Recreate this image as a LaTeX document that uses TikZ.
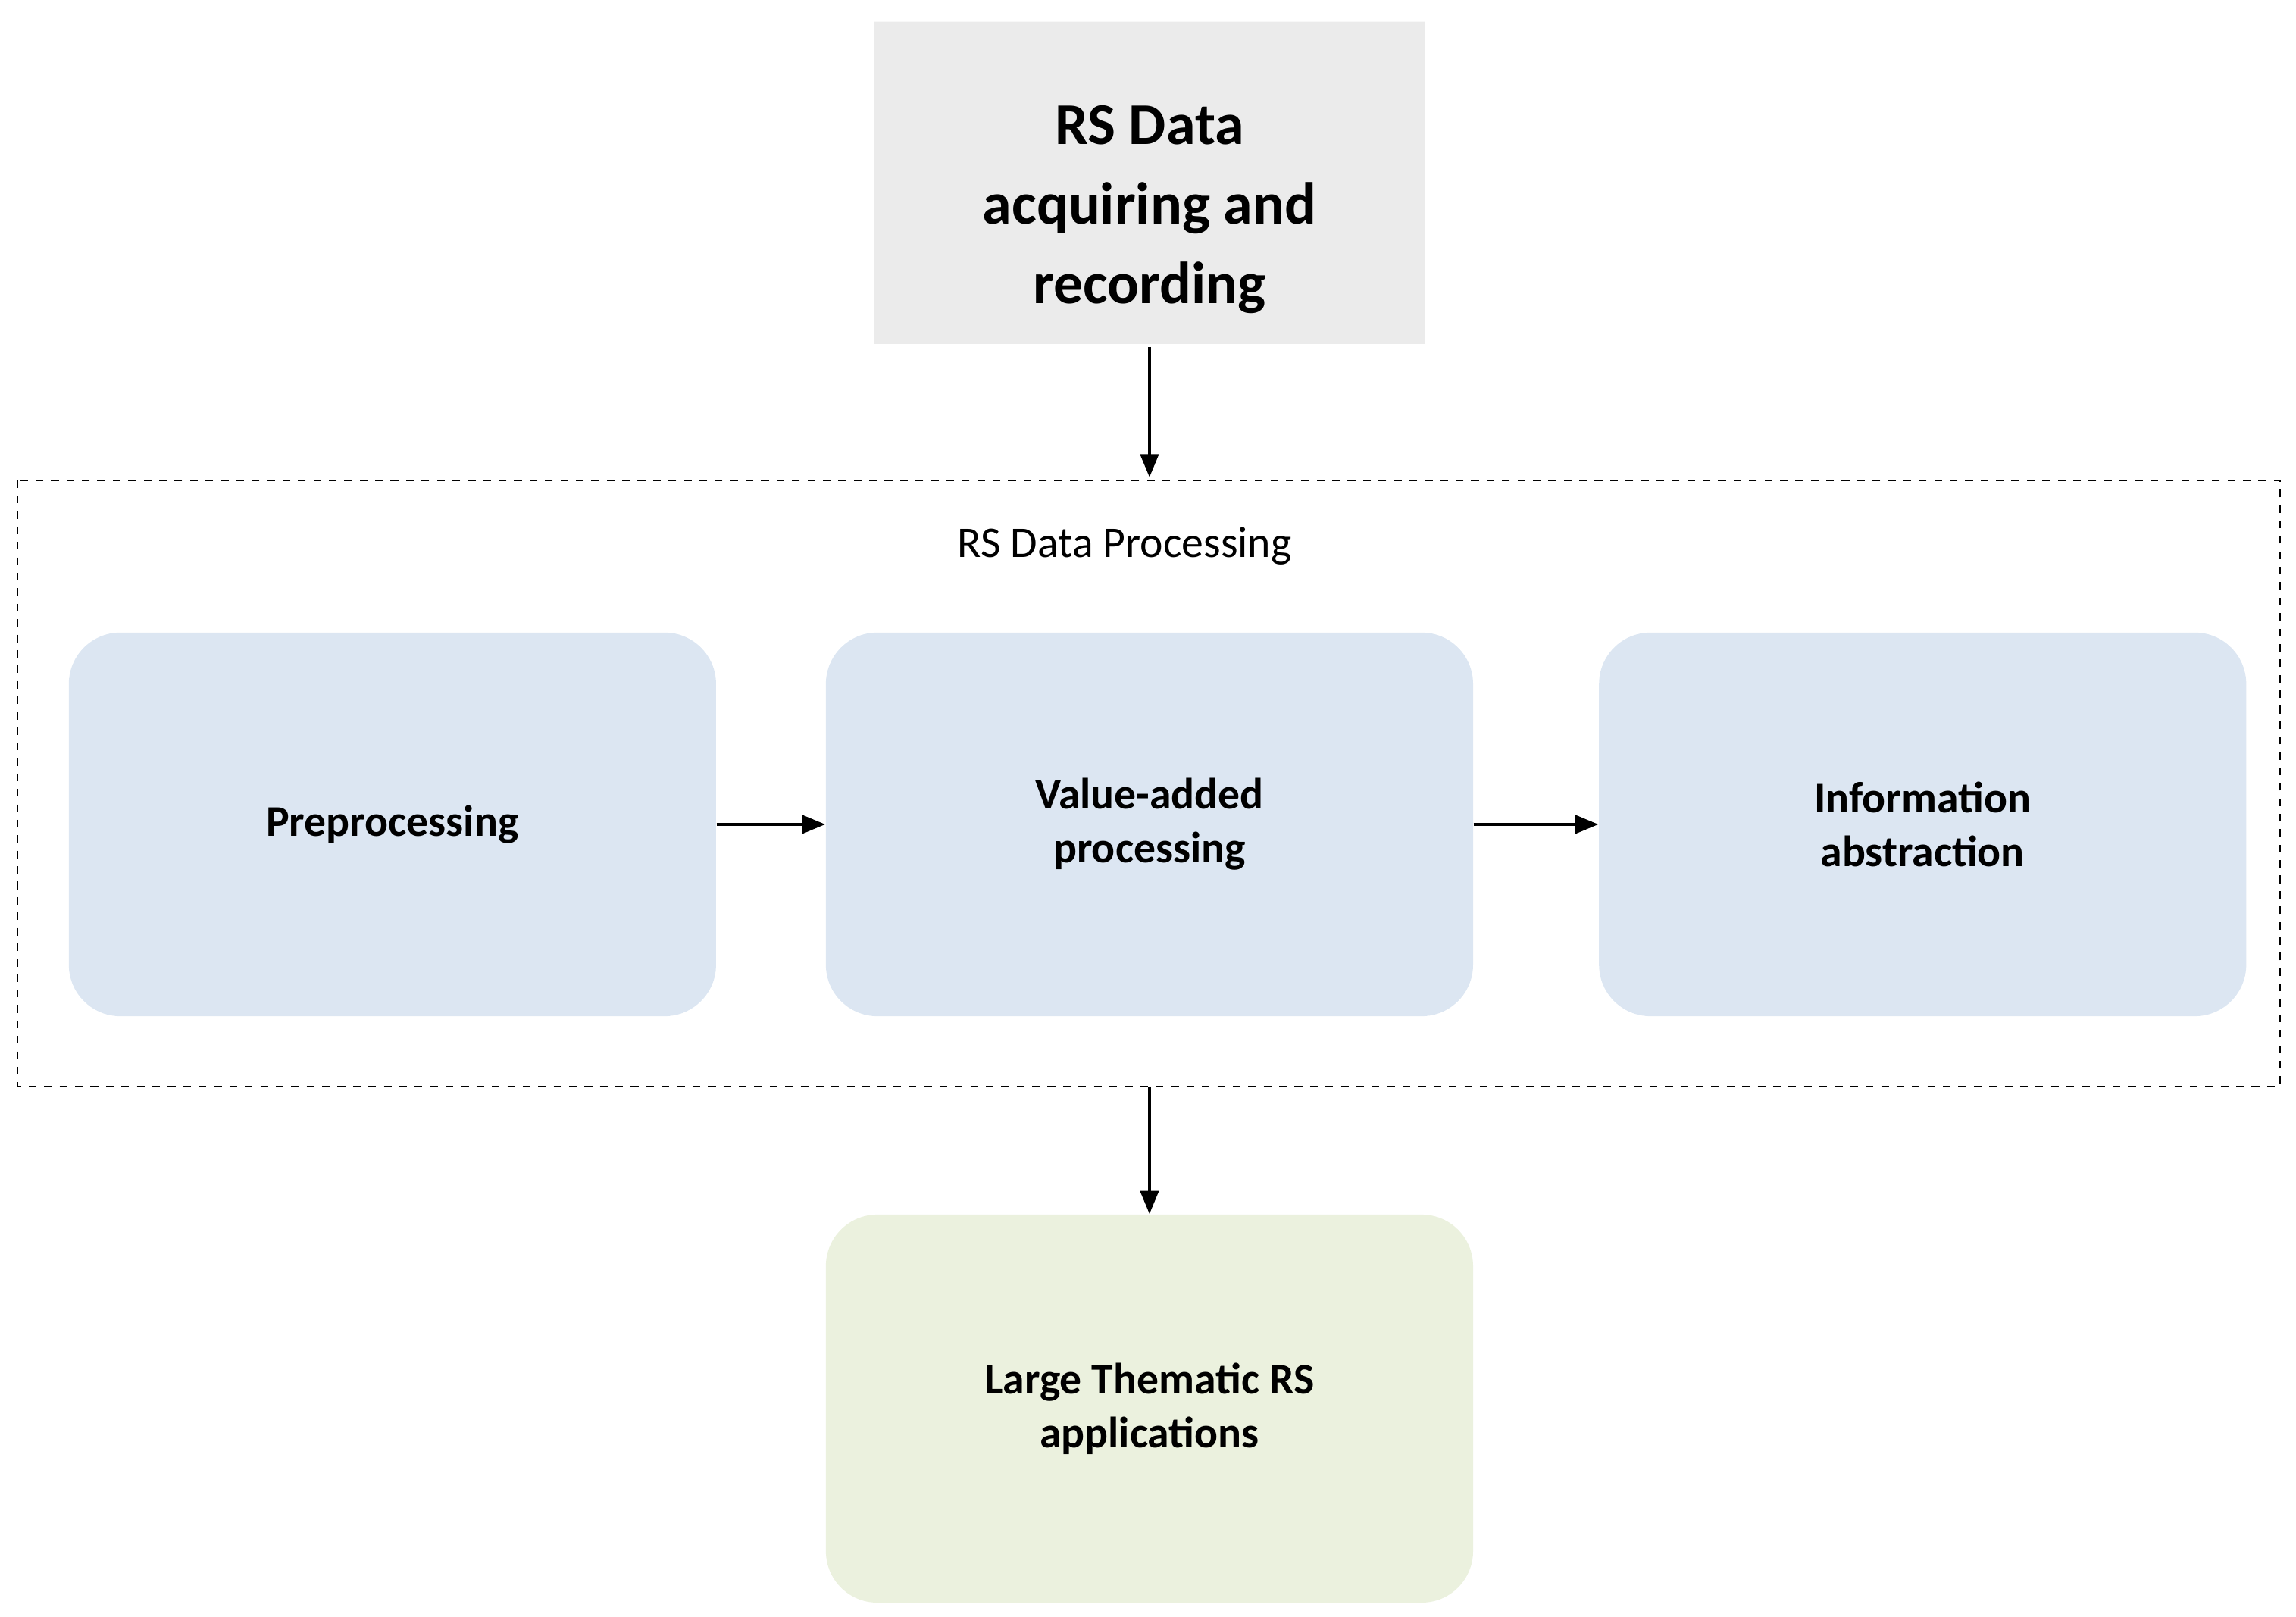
\documentclass[tikz,border=0pt]{standalone}
\usepackage{fontspec}
\setmainfont{Carlito}
\usetikzlibrary{shapes.geometric,arrows.meta}
\definecolor{bluebox}{HTML}{DCE6F2}
\definecolor{greenbox}{HTML}{EBF1DE}
\definecolor{cyl}{HTML}{EBEBEB}
\begin{document}
\begin{tikzpicture}[x=0.02cm,y=-0.02cm,
  box/.style={rounded corners=20pt,minimum width=442*0.02cm,minimum height=262*0.02cm,align=center,font=\fontsize{17}{21}\selectfont\bfseries,inner sep=0pt},
  arr/.style={-{Triangle[length=9pt,width=7pt]},line width=1.4pt}]
\useasboundingbox (0,0) rectangle (1568,1104);
\node[cylinder,shape border rotate=90,aspect=0.35,fill=cyl,draw=none,minimum width=376*0.02cm,minimum height=220*0.02cm,inner sep=0pt,align=center,font=\fontsize{23}{31}\selectfont\bfseries] (src) at (785,125) {};
\node[align=center,font=\fontsize{23}{31}\selectfont\bfseries] (srct) at (785,143) {RS Data\\acquiring and\\recording};
\draw[dashed,line width=0.6pt] (12,328) rectangle (1557,742);
\coordinate (ptop) at (785,326);
\coordinate (pbot) at (785,742);
\node[font=\fontsize{17}{21}\selectfont] (lab) at (768,373) {RS Data Processing};
\node[box,fill=bluebox] (pre) at (268,563) {Preprocessing};
\node[box,fill=bluebox] (val) at (785,563) {Value-added\\processing};
\node[box,fill=bluebox] (inf) at (1313,563) {Information\\abstraction};
\node[box,fill=greenbox,minimum height=265*0.02cm] (app) at (785,962) {Large Thematic RS\\applications};
\draw[arr] (785,237) -- (ptop);
\draw[arr] (pre.east) -- (val.west);
\draw[arr] (val.east) -- (inf.west);
\draw[arr] (pbot) -- (app.north);
\end{tikzpicture}
\end{document}
